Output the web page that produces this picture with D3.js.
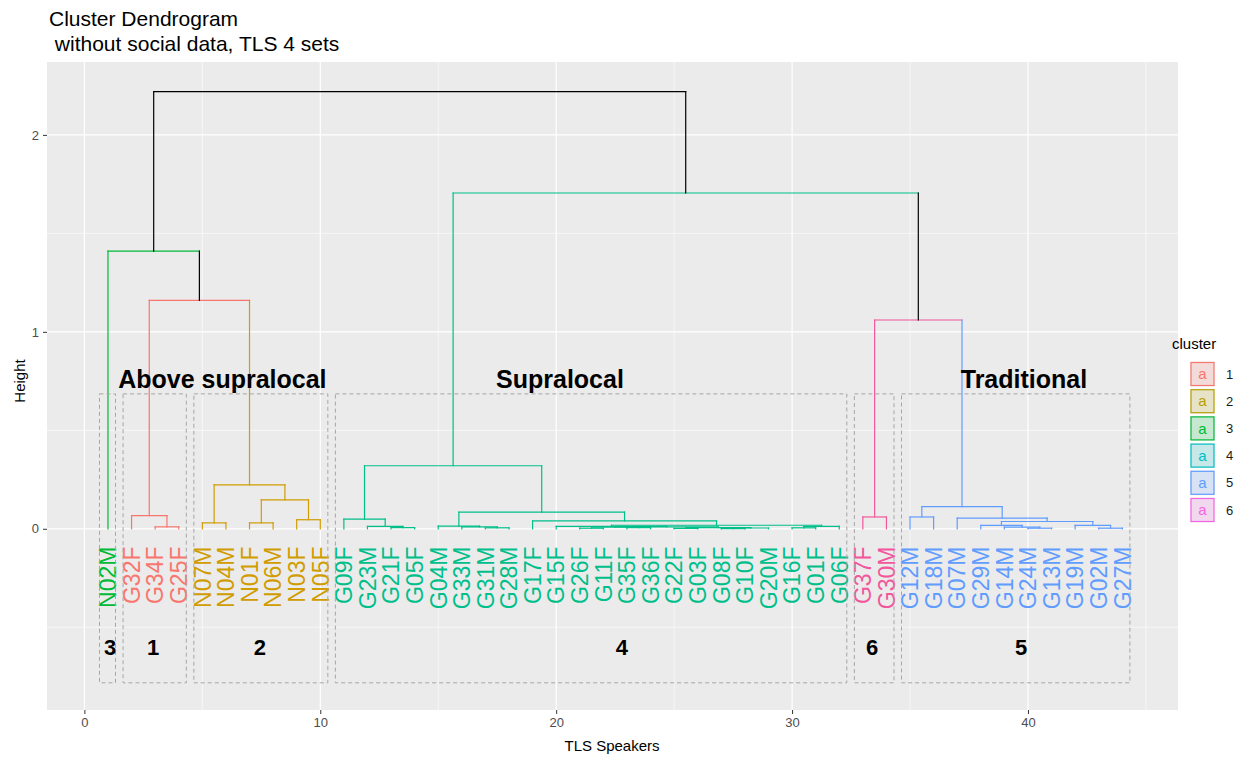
<!DOCTYPE html>
<html><head><meta charset="utf-8">
<script src="https://cdn.jsdelivr.net/npm/d3@7"></script>
<style>
body{margin:0;background:#fff;}
svg{font-family:"Liberation Sans",Arial,sans-serif;}
</style></head>
<body><svg id="c" width="1249" height="757"></svg>
<script>
// ---------------- data ----------------
const leaves = ["N02M","G32F","G34F","G25F","N07M","N04M","N01F","N06M","N03F","N05F",
  "G09F","G23M","G21F","G05F","G04M","G33M","G31M","G28M","G17F","G15F","G26F","G11F",
  "G35F","G36F","G22F","G03F","G08F","G10F","G20M","G16F","G01F","G06F",
  "G37F","G30M","G12M","G18M","G07M","G29M","G14M","G24M","G13M","G19M","G02M","G27M"];
const leafCluster = [3,1,1,1,2,2,2,2,2,2,
  4,4,4,4,4,4,4,4,4,4,4,4,4,4,4,4,4,4,4,4,4,4,
  6,6,5,5,5,5,5,5,5,5,5,5];
// merges: [left, right, height]; a number refers to an earlier merge row
const merges = [
  ["G34F","G25F",0.01], ["G32F",0,0.067],
  ["N07M","N04M",0.03], ["N01F","N06M",0.03], ["N03F","N05F",0.046], [3,4,0.147], [2,5,0.223],
  [1,6,1.16], ["N02M",7,1.41],
  ["G21F","G05F",0.006], ["G23M",9,0.012], ["G09F",10,0.049],
  ["G31M","G28M",0.005], ["G33M",12,0.01], ["G04M",13,0.014],
  ["G26F","G11F",0.003], ["G35F","G36F",0.006], [15,16,0.008],
  ["G22F","G03F",0.002], ["G08F","G10F",0.001], [19,"G20M",0.004], [18,20,0.006],
  [17,21,0.01], ["G15F",22,0.012], ["G16F","G01F",0.005], [24,"G06F",0.012],
  [23,25,0.018], ["G17F",26,0.04], [14,27,0.085], [11,28,0.32],
  ["G37F","G30M",0.06],
  ["G12M","G18M",0.06], ["G02M","G27M",0.003], ["G19M",32,0.017],
  ["G24M","G13M",0.003], ["G14M",34,0.008], ["G29M",35,0.017], [36,33,0.037],
  ["G07M",37,0.054], [31,38,0.113],
  [30,39,1.06], [29,40,1.705], [8,41,2.22]
];
const clusterIds = [1,2,3,4,5,6];
const branchColors = {1:"#F8766D",2:"#D19C00",3:"#00BA38",4:"#00BF8A",5:"#619CFF",6:"#F2579C"};
const legendColors = {1:"#F8766D",2:"#B79F00",3:"#00BA38",4:"#00BFC4",5:"#619CFF",6:"#F564E3"};
const clusterNumX = [1.09,2.91,7.44,22.79,33.39,39.71];   // cluster number labels (x units)
const clusterNumOrder = [3,1,2,4,6,5];
const groupNames = ["Above supralocal","Supralocal","Traditional"];
const groupX = [5.85,20.16,39.83];
const xTicks = [0,10,20,30,40];
const yTicks = [0,1,2];

// ---------------- layout ----------------
const svg = d3.select("#c");
const P = {l:47, r:1178, t:62, b:710};
const x = d3.scaleLinear().domain([-1.585,46.36]).range([P.l,P.r]);
const y = d3.scaleLinear().domain([-0.92,2.37]).range([P.b,P.t]);

// panel
svg.append("rect").attr("x",P.l).attr("y",P.t).attr("width",P.r-P.l).attr("height",P.b-P.t).attr("fill","#EBEBEB");
const g = svg.append("g");
[5,15,25,35,45].forEach(v=>g.append("line").attr("x1",x(v)).attr("x2",x(v)).attr("y1",P.t).attr("y2",P.b).attr("stroke","#fff").attr("stroke-width",0.6));
[-0.5,0.5,1.5].forEach(v=>g.append("line").attr("y1",y(v)).attr("y2",y(v)).attr("x1",P.l).attr("x2",P.r).attr("stroke","#fff").attr("stroke-width",0.6));
xTicks.forEach(v=>g.append("line").attr("x1",x(v)).attr("x2",x(v)).attr("y1",P.t).attr("y2",P.b).attr("stroke","#fff").attr("stroke-width",1.2));
yTicks.forEach(v=>g.append("line").attr("y1",y(v)).attr("y2",y(v)).attr("x1",P.l).attr("x2",P.r).attr("stroke","#fff").attr("stroke-width",1.2));

// axes
const ax = svg.append("g").attr("transform",`translate(0,${P.b})`).call(d3.axisBottom(x).tickValues(xTicks).tickFormat(d3.format("d")).tickSize(4).tickPadding(4));
const ay = svg.append("g").attr("transform",`translate(${P.l},0)`).call(d3.axisLeft(y).tickValues(yTicks).tickFormat(d3.format("d")).tickSize(4).tickPadding(4));
[ax,ay].forEach(a=>{a.select(".domain").remove();
  a.selectAll(".tick line").attr("stroke","#333");
  a.selectAll(".tick text").attr("fill","#4D4D4D").style("font-size","13px").style("font-family","'Liberation Sans',Arial,sans-serif");});

svg.append("text").attr("x",612).attr("y",751).attr("text-anchor","middle").style("font-size","15px").text("TLS Speakers");
svg.append("text").attr("transform","translate(25,381) rotate(-90)").attr("text-anchor","middle").style("font-size","15px").text("Height");
svg.append("text").attr("x",49).attr("y",26).style("font-size","21px").text("Cluster Dendrogram");
svg.append("text").attr("x",49).attr("y",51).style("font-size","21px").attr("xml:space","preserve").style("white-space","pre").text(" without social data, TLS 4 sets");

// ---------------- tree ----------------
const leafIdx = {}; leaves.forEach((n,i)=>leafIdx[n]=i);
function info(ref){
  if(typeof ref==="string"){const i=leafIdx[ref];return {x:i+1,h:0,c:leafCluster[i]};}
  return nodes[ref];
}
const nodes = [];
const segs = [];
merges.forEach(m=>{
  const a=info(m[0]), b=info(m[1]), h=m[2];
  const c = (a.c!==null && a.c===b.c)? a.c : null;
  nodes.push({x:(a.x+b.x)/2,h:h,c:c});
  const col = k=> k===null? "#000" : branchColors[k];
  segs.push({x1:a.x,y1:h,x2:b.x,y2:h,col:col(a.c)});
  segs.push({x1:a.x,y1:h,x2:a.x,y2:a.h,col:col(a.c)});
  segs.push({x1:b.x,y1:h,x2:b.x,y2:b.h,col:col(b.c)});
});
svg.append("g").selectAll("line").data(segs).join("line")
  .attr("x1",d=>x(d.x1)).attr("x2",d=>x(d.x2)).attr("y1",d=>y(d.y1)).attr("y2",d=>y(d.y2))
  .attr("stroke",d=>d.col).attr("stroke-width",1.2).attr("stroke-linecap","square");

// leaf labels
svg.append("g").selectAll("text").data(leaves).join("text")
  .attr("transform",(d,i)=>`translate(${x(i+1)},${y(-0.09)}) rotate(-90)`)
  .attr("text-anchor","end").attr("dy","0.36em")
  .attr("fill",(d,i)=>branchColors[leafCluster[i]])
  .style("font-size","23px").text(d=>d);

// cluster rectangles
const rects = clusterIds.map(k=>{
  const idx = leafCluster.map((c,i)=>c===k?i+1:null).filter(v=>v!==null);
  return {k:k,lo:d3.min(idx),hi:d3.max(idx)};
});
svg.append("g").selectAll("rect").data(rects).join("rect")
  .attr("x",d=>x(d.lo-0.36)).attr("width",d=>x(d.hi+0.32)-x(d.lo-0.36))
  .attr("y",y(0.685)).attr("height",y(-0.782)-y(0.685))
  .attr("fill","none").attr("stroke","#A6A6A6").attr("stroke-width",1).attr("stroke-dasharray","4,3");

// cluster numbers
svg.append("g").selectAll("text").data(clusterNumOrder).join("text")
  .attr("x",(d,i)=>x(clusterNumX[i])).attr("y",y(-0.64)).attr("text-anchor","middle")
  .style("font-size","22px").style("font-weight","bold").text(d=>d);
// group names
svg.append("g").selectAll("text").data(groupNames).join("text")
  .attr("x",(d,i)=>x(groupX[i])).attr("y",y(0.715)).attr("text-anchor","middle")
  .style("font-size","25px").style("font-weight","bold").text(d=>d);

// legend
const lg = svg.append("g");
lg.append("text").attr("x",1172).attr("y",349).style("font-size","15px").text("cluster");
clusterIds.forEach((k,i)=>{
  const cy = 374 + i*27.2;
  lg.append("rect").attr("x",1190).attr("y",cy-12.5).attr("width",25).attr("height",25).attr("fill","#F2F2F2");
  lg.append("rect").attr("x",1191).attr("y",cy-11.5).attr("width",23).attr("height",23)
    .attr("fill",legendColors[k]).attr("fill-opacity",0.18).attr("stroke",legendColors[k]).attr("stroke-width",1.2);
  lg.append("text").attr("x",1202.5).attr("y",cy).attr("dy","0.35em").attr("text-anchor","middle")
    .attr("fill",legendColors[k]).style("font-size","15px").text("a");
  lg.append("text").attr("x",1226).attr("y",cy).attr("dy","0.35em").style("font-size","13px").attr("fill","#1A1A1A").text(k);
});
</script></body></html>
